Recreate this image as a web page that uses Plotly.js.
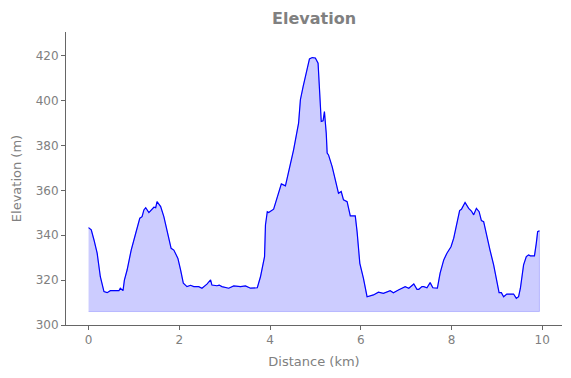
<!DOCTYPE html>
<html><head><meta charset="utf-8">
<script src="https://cdn.plot.ly/plotly-3.0.1.min.js"></script>
<style>html,body{margin:0;padding:0;background:#fff}#c{width:571px;height:378px}</style>
</head><body><div id="c"></div>
<script>
const distanceKm = [0,0.06,0.12,0.19,0.26,0.34,0.41,0.48,0.67,0.70,0.76,0.79,0.85,0.94,1.04,1.13,1.18,1.22,1.26,1.33,1.44,1.48,1.51,1.59,1.66,1.73,1.82,1.88,1.97,2.03,2.09,2.17,2.25,2.32,2.43,2.50,2.61,2.69,2.72,2.83,2.88,2.94,3.09,3.20,3.35,3.46,3.57,3.72,3.79,3.88,3.90,3.94,3.97,4.08,4.14,4.20,4.25,4.34,4.45,4.52,4.63,4.67,4.73,4.82,4.87,4.93,5.00,5.06,5.11,5.13,5.17,5.20,5.24,5.26,5.29,5.37,5.44,5.51,5.57,5.62,5.70,5.77,5.88,5.92,5.98,6.06,6.14,6.28,6.39,6.50,6.65,6.72,6.83,6.94,6.98,7.06,7.17,7.24,7.28,7.35,7.39,7.46,7.53,7.59,7.69,7.75,7.83,7.90,7.99,8.05,8.12,8.18,8.22,8.30,8.38,8.44,8.49,8.55,8.61,8.66,8.71,8.78,8.85,8.93,9.00,9.05,9.10,9.15,9.22,9.37,9.43,9.48,9.52,9.59,9.65,9.70,9.74,9.83,9.87,9.90,9.94];
const elevationM = [343.4,342.4,337.9,332,321.5,314.9,314.4,315.3,315.3,316.4,315.3,320,324.5,333.4,340.9,347.6,348.3,351.3,352.3,350.1,352.5,352.3,355,352.8,348.3,341.6,334.2,333.4,329.7,324.5,318.6,317.1,317.7,317.1,317.1,316.4,318.2,320.1,317.8,317.5,317.8,317.1,316.4,317.4,317.1,317.4,316.4,316.6,321.5,330.5,344.6,350.5,350.1,351.6,355.8,359,362.9,362,372.1,378.1,390,400.4,406.3,415.2,418.6,419.2,419,416.7,400.4,390.7,391,395.1,385.5,376.6,375.8,370.6,364.7,358.7,359.5,355.8,355,348.6,348.6,341.6,327.5,320.8,312.6,313.4,314.6,314.1,315.3,314.4,315.6,316.6,317.1,316.4,318.3,315.9,315.9,317.1,317.1,316.6,318.9,316.6,316.4,323.1,329,332,334.9,338.7,345.4,351,351.6,354.6,352,350.8,349.1,352,350.5,346.5,346.1,339.4,333.4,326.8,320.1,314.4,314.4,312.6,313.8,313.8,311.9,312.6,316.4,326.8,330.5,331.2,330.8,330.8,336.4,341.6,342];
const fillBase = 306;
const xTicks = [0,2,4,6,8,10];
const yTicks = [300,320,340,360,380,400,420];

const polyX = distanceKm.concat([distanceKm[distanceKm.length-1], distanceKm[0]]);
const polyY = elevationM.concat([fillBase, fillBase]);
const grey = '#808080';
const data = [
  {x: polyX, y: polyY, type:'scatter', mode:'lines', fill:'toself',
   fillcolor:'rgba(0,0,255,0.2)', line:{color:'rgba(0,0,255,0.2)', width:1}, hoverinfo:'skip'},
  {x: distanceKm, y: elevationM, type:'scatter', mode:'lines',
   line:{color:'#0000ff', width:1.2}}
];
const axisBase = {showgrid:false, zeroline:false, showline:true, linecolor:'#666', linewidth:1,
  ticks:'outside', ticklen:4, tickcolor:'#666', tickfont:{family:'DejaVu Sans', size:12, color:grey}};
const layout = {
  width:571, height:378, showlegend:false,
  paper_bgcolor:'#fff', plot_bgcolor:'#fff',
  margin:{l:66, r:9, t:32, b:53},
  title:{text:'<b>Elevation</b>', font:{family:'DejaVu Sans', size:16, color:grey}, x:0.55, xanchor:'center', y:0.952, yanchor:'middle'},
  xaxis: Object.assign({}, axisBase, {range:[-0.497,10.437], tickvals:xTicks, ticktext:xTicks.map(String),
    title:{text:'Distance (km)', font:{family:'DejaVu Sans', size:13, color:grey}, standoff:10}}),
  yaxis: Object.assign({}, axisBase, {range:[300,430.6], tickvals:yTicks, ticktext:yTicks.map(String),
    title:{text:'Elevation (m)', font:{family:'DejaVu Sans', size:13, color:grey}, standoff:11}})
};
Plotly.newPlot('c', data, layout, {displayModeBar:false, staticPlot:true});
</script></body></html>
